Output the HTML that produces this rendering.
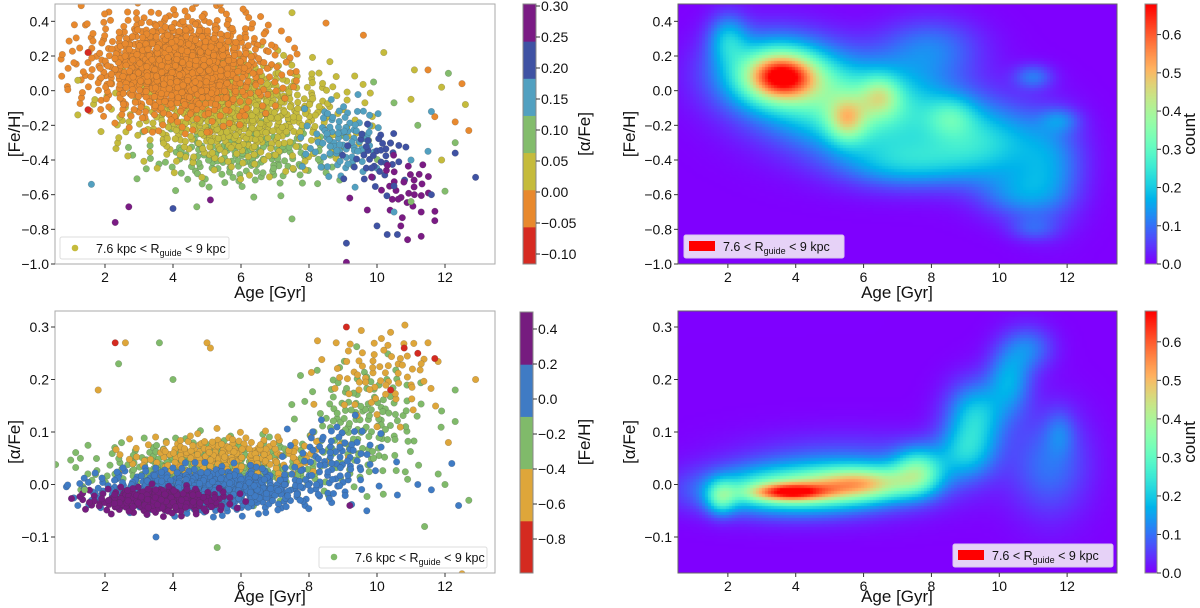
<!DOCTYPE html>
<html><head><meta charset="utf-8">
<style>
html,body{margin:0;padding:0;background:#fff;}
#wrap{position:relative;width:1200px;height:608px;overflow:hidden;font-family:"Liberation Sans","DejaVu Sans",sans-serif;}
canvas{position:absolute;}
svg{position:absolute;left:0;top:0;}
</style></head>
<body>
<div id="wrap">
<canvas id="hm1" width="439" height="260" style="left:678px;top:4px;width:439px;height:260px"></canvas>
<canvas id="hm2" width="439" height="262" style="left:678px;top:311px;width:439px;height:262px"></canvas>
<canvas id="cb1" width="12" height="260" style="left:1145px;top:4px;width:12px;height:260px"></canvas>
<canvas id="cb2" width="12" height="262" style="left:1145px;top:311px;width:12px;height:262px"></canvas>
<svg id="svg" width="1200" height="608" xmlns="http://www.w3.org/2000/svg"></svg>
</div>
<script>
// ---------- DATA ----------
// Top-left scatter clusters: [age, feh, sigmaAge, sigmaFeh, count, alphaFe]
const tlClusters = [
 [6.2,-0.38,1.5,0.09,170,0.07],
 [5.8,-0.12,1.6,0.15,620,0.02],
 [9.0,-0.28,0.55,0.11,90,0.15],
 [10.0,-0.38,0.45,0.09,40,0.20],
 [10.8,-0.56,0.5,0.09,30,0.27],
 [4.2,0.14,1.35,0.15,950,-0.03]
];
const tlPoints = [
 [9.1,-0.99,0.27],[9.1,-0.88,0.22],[2.3,-0.76,0.27],[2.7,-0.67,0.27],[4.0,-0.68,0.22],[5.1,-0.63,0.27],
 [10.0,-0.78,0.22],[10.3,-0.83,0.22],[10.6,-0.83,0.22],[10.9,-0.86,0.27],[11.3,-0.84,0.27],[11.7,-0.75,0.27],
 [10.7,-0.78,0.27],[11.3,-0.70,0.27],[12.9,-0.50,0.22],[12.3,-0.36,0.22],[1.6,-0.54,0.15],[12.1,0.10,0.07],
 [12.5,0.04,-0.03],[12.7,-0.23,-0.03],[12.6,-0.08,0.02],[11.9,0.02,0.02],[11.5,0.12,-0.03],[11.1,0.12,0.02],
 [10.2,0.22,0.02],[9.6,0.32,-0.03],[8.5,0.39,-0.03],[7.5,0.45,0.02],[1.1,0.38,-0.03],[1.3,0.49,-0.03],
 [1.5,0.22,-0.08],[1.5,-0.11,-0.08],[10.5,-0.70,0.15],[11.0,-0.64,0.07],[7.5,-0.74,0.07],[4.7,-0.67,0.07],
 [12.0,-0.58,0.07],[11.5,-0.35,0.15],[11.7,-0.15,-0.03],[12.3,-0.18,-0.03],[9.9,0.05,0.07],[10.5,-0.07,0.07],
 [11.0,-0.05,0.02],[11.6,-0.12,0.15],[11.2,-0.20,0.07],[12.3,-0.30,0.07],[11.9,-0.40,0.02],[11.0,-0.40,0.15],
 [10.5,-0.55,0.22],[11.1,-0.60,0.27],[11.6,-0.60,0.22],[1.2,0.06,0.02],[1.2,-0.14,0.02],[9.2,-0.62,0.27]
];
// Bottom-left scatter clusters: [age, alphaFe, sigmaAge, sigmaAlpha, count, feh]
const blClusters = [
 [5.2,0.030,1.8,0.028,330,-0.1],
 [9.6,0.12,0.9,0.055,140,-0.1],
 [5.6,0.055,1.4,0.020,200,-0.5],
 [10.1,0.21,0.9,0.040,70,-0.5],
 [5.0,-0.010,1.6,0.020,580,0.1],
 [8.8,0.05,0.7,0.035,80,0.1],
 [3.6,-0.030,1.0,0.012,260,0.3]
];
const blPoints = [
 [9.1,0.30,-0.9],[8.8,0.27,-0.6],[10.4,0.29,-0.6],[10.8,0.26,-0.9],[11.2,0.25,-0.9],[11.5,0.27,-0.6],
 [11.7,0.24,-0.9],[11.3,0.23,-0.6],[12.9,0.20,-0.6],[12.3,0.18,-0.3],[10.4,0.18,-0.9],[2.3,0.27,-0.9],
 [2.6,0.27,-0.6],[3.6,0.27,-0.3],[5.0,0.27,-0.6],[5.1,0.26,-0.6],[1.8,0.18,-0.6],[2.4,0.23,-0.3],
 [4.0,0.20,-0.3],[12.5,-0.17,-0.6],[11.4,-0.08,-0.3],[12.4,-0.04,0.1],[9.7,-0.05,0.1],[5.3,-0.12,-0.3],
 [3.5,-0.10,0.1],[12.7,-0.03,-0.3],[12.2,0.04,0.1],[12.3,0.12,-0.3],[11.9,0.14,-0.3],[12.1,0.08,-0.6],
 [10.0,0.11,-0.6],[9.9,0.05,-0.3],[11.2,0.00,0.1],[11.8,0.02,-0.3],[11.6,-0.01,0.1],[10.6,-0.02,0.1],
 [10.9,0.01,-0.3],[12.0,0.00,-0.3],[9.2,-0.04,0.3],[1.2,-0.04,0.1],[1.4,-0.01,-0.3]
];
// Heatmap density blobs: [age, y, sigmaAge, sigmaY, amplitude]
const hmFehBlobs = [
 [3.6,0.08,0.7,0.09,0.38],[3.4,0.10,1.2,0.15,0.3],[5.5,-0.17,0.4,0.09,0.22],[6.5,-0.03,0.4,0.08,0.17],
 [6.0,-0.10,1.8,0.18,0.3],[8.6,-0.15,0.5,0.08,0.12],[9.5,-0.30,1.2,0.15,0.2],[11.0,0.08,0.4,0.05,0.1],
 [11.5,-0.45,0.7,0.2,0.12],[11.8,-0.17,0.4,0.05,0.08],[11.0,-0.80,0.5,0.05,0.06],[7.2,-0.42,1.3,0.1,0.15],
 [2.0,0.30,0.4,0.1,0.15],[8.0,0.25,1.0,0.12,0.1],[10.5,-0.6,0.8,0.1,0.1]
];
const hmAlphaBlobs = [
 [3.8,-0.015,0.8,0.012,0.35],[3.8,-0.012,1.7,0.03,0.3],[6.0,0.002,1.0,0.022,0.3],[7.6,0.025,0.5,0.03,0.25],
 [1.8,-0.025,0.3,0.022,0.2],[9.3,0.13,0.6,0.045,0.2],[10.3,0.2,0.45,0.045,0.15],[10.9,0.26,0.5,0.03,0.1],
 [11.5,0.04,0.8,0.07,0.1],[9.0,0.06,0.6,0.035,0.15],[11.8,0.1,0.3,0.03,0.06],[5.5,0.02,2.2,0.045,0.12]
];
const xTicks = [2,4,6,8,10,12];
const fehTicks = [0.4,0.2,0.0,-0.2,-0.4,-0.6,-0.8,-1.0];
const alphaTicks = [0.3,0.2,0.1,0.0,-0.1];
const cbAlphaLabels = ["0.30","0.25","0.20","0.15","0.10","0.05","0.00","−0.05","−0.10"];
const cbFehLabels = ["0.4","0.2","0.0","−0.2","−0.4","−0.6","−0.8"];
const countTicks = [0.0,0.1,0.2,0.3,0.4,0.5,0.6];

// ---------- HELPERS ----------
const NS="http://www.w3.org/2000/svg";
const svg=document.getElementById('svg');
function el(tag,attrs,parent){const e=document.createElementNS(NS,tag);for(const k in attrs)e.setAttribute(k,attrs[k]);(parent||svg).appendChild(e);return e;}
function txt(s,attrs,parent){const e=el('text',attrs,parent);e.textContent=s;return e;}
function fmt(v,d){const s=Math.abs(v).toFixed(d);return (v<-1e-9?'−':'')+s;}
function lin(d0,d1,r0,r1){return v=>r0+(v-d0)*(r1-r0)/(d1-d0);}

const tlBinCols=['#d62a22','#e8892e','#c5bb3c','#83bc6c','#52a0c0','#3f52a3','#7a1b84'];
const tlEdges=[-0.117,-0.057,0.002,0.062,0.121,0.181,0.240,0.30];
const blBinCols=['#d42a20','#dea63a','#80ba6a','#3f7bc4','#761c7f'];
const blEdges=[-0.994,-0.696,-0.398,-0.099,0.199,0.497];
function binCol(v,edges,cols){for(let i=0;i<cols.length;i++){if(v<edges[i+1])return cols[i];}return cols[cols.length-1];}

function axesFrame(name,x0,y0,x1,y1,stroke){
  const r=el('rect',{x:x0,y:y0,width:x1-x0,height:y1-y0,fill:'none',stroke:stroke,'stroke-width':1});
  
}
function xAxis(prefix,sx,y1){
  const g=el('g',{});
  xTicks.forEach(t=>{const x=sx(t);el('line',{x1:x,x2:x,y1:y1,y2:y1+4,stroke:'#333'},g);
    txt(String(t),{x:x,y:y1+18,'font-size':14,'text-anchor':'middle',fill:'#111'},g);});
}
function yAxis(prefix,sy,x0,ticks,d){
  const g=el('g',{});
  ticks.forEach(t=>{const y=sy(t);el('line',{x1:x0-4,x2:x0,y1:y,y2:y,stroke:'#333'},g);
    txt(fmt(t,d),{x:x0-6,y:y+5,'font-size':14,'text-anchor':'end',fill:'#111'},g);});
}
function label(s,x,y,rot,name){
  const t=txt(s,{x:x,y:y,'font-size':17,'text-anchor':'middle',fill:'#111',transform:rot?`rotate(-90 ${x} ${y})`:''});
  
}
function halton(i,b){let f=1,r=0;while(i>0){f/=b;r+=f*(i%b);i=Math.floor(i/b);}return r;}
function clusterPoints(c){
  const out=[];const n=c[4];
  for(let i=1;i<=n;i++){const u1=halton(i,2),u2=halton(i,3);
    const r=Math.min(2.6,Math.sqrt(-2*Math.log(Math.max(u1,1e-4))));const th=2*Math.PI*u2;
    out.push([c[0]+r*c[2]*Math.cos(th),c[1]+r*c[3]*Math.sin(th),c[5]]);}
  return out;
}

// ---------- TOP-LEFT SCATTER ----------
(function(){
  const x0=55,x1=495,y0=4,y1=264;
  const sx=lin(0.53,13.47,x0,x1), sy=lin(0.5,-1.0,y0,y1);
  el('clipPath',{id:'c1'}).appendChild(el('rect',{x:x0,y:y0,width:x1-x0,height:y1-y0}));
  const g=el('g',{'clip-path':'url(#c1)'});
  let pts=[];tlClusters.forEach(c=>pts=pts.concat(clusterPoints(c)));pts=pts.concat(tlPoints);
  pts.forEach(p=>{const c=el('circle',{cx:sx(p[0]).toFixed(1),cy:sy(p[1]).toFixed(1),r:3.3,fill:binCol(p[2],tlEdges,tlBinCols),stroke:'rgba(60,60,60,0.35)','stroke-width':0.5},g);
    });
  axesFrame('feh-scatter-frame',x0,y0,x1,y1,'#aaa');
  xAxis('feh-scatter',sx,y1);yAxis('feh-scatter',sy,x0,fehTicks,1);
  label('Age [Gyr]',270,298,false,'x-axis-title');
  label('[Fe/H]',20,134,true,'y-axis-title');
  const lg=el('g',{});
  el('rect',{x:60,y:237,width:169,height:22,rx:2,fill:'#fff',stroke:'#ddd'},lg);
  el('circle',{cx:75,cy:248,r:3.3,fill:'#c5bb3c'},lg);
  const t=txt('',{x:96,y:253,'font-size':12.5,fill:'#111'},lg);
  t.innerHTML='7.6 kpc &lt; R<tspan font-size="9" dy="3">guide</tspan><tspan dy="-3"> &lt; 9 kpc</tspan>';
  const cb=el('g',{});
  const cbT=4,cbB=264,bh=(cbB-cbT)/7;
  tlBinCols.forEach((c,i)=>el('rect',{x:523,y:cbB-(i+1)*bh,width:13,height:bh+0.5,fill:c},cb));
  el('rect',{x:523,y:cbT,width:13,height:cbB-cbT,fill:'none',stroke:'#888'},cb);
  cbAlphaLabels.forEach((s,i)=>{const y=6+i*31;el('line',{x1:536,x2:540,y1:y,y2:y,stroke:'#333'},cb);
    txt(s,{x:541,y:y+5,'font-size':14,fill:'#111'},cb);});
  label('[α/Fe]',590,134,true,'colorbar-title');
})();

// ---------- BOTTOM-LEFT SCATTER ----------
(function(){
  const x0=55,x1=495,y0=311,y1=573;
  const sx=lin(0.53,13.47,x0,x1), sy=lin(0.3,-0.1,327,537);
  el('clipPath',{id:'c2'}).appendChild(el('rect',{x:x0,y:y0,width:x1-x0,height:y1-y0}));
  const g=el('g',{'clip-path':'url(#c2)'});
  let pts=[];blClusters.forEach(c=>pts=pts.concat(clusterPoints(c)));pts=pts.concat(blPoints);
  pts.forEach(p=>{const c=el('circle',{cx:sx(p[0]).toFixed(1),cy:sy(p[1]).toFixed(1),r:3.3,fill:binCol(p[2],blEdges,blBinCols),stroke:'rgba(60,60,60,0.35)','stroke-width':0.5},g);
    });
  axesFrame('alpha-scatter-frame',x0,y0,x1,y1,'#aaa');
  xAxis('alpha-scatter',sx,y1);yAxis('alpha-scatter',sy,x0,alphaTicks,1);
  label('Age [Gyr]',270,602,false,'x-axis-title');
  label('[α/Fe]',20,442,true,'y-axis-title');
  const lg=el('g',{});
  el('rect',{x:319,y:547,width:168,height:21,rx:2,fill:'#fff',stroke:'#ddd'},lg);
  el('circle',{cx:334,cy:557,r:3.3,fill:'#80ba6a'},lg);
  const t=txt('',{x:355,y:562,'font-size':12.5,fill:'#111'},lg);
  t.innerHTML='7.6 kpc &lt; R<tspan font-size="9" dy="3">guide</tspan><tspan dy="-3"> &lt; 9 kpc</tspan>';
  const cb=el('g',{});
  const cbT=312,cbB=573,bh=(cbB-cbT)/5;
  blBinCols.forEach((c,i)=>el('rect',{x:520,y:cbB-(i+1)*bh,width:13,height:bh+0.5,fill:c},cb));
  el('rect',{x:520,y:cbT,width:13,height:cbB-cbT,fill:'none',stroke:'#888'},cb);
  cbFehLabels.forEach((s,i)=>{const y=329+i*35;el('line',{x1:533,x2:537,y1:y,y2:y,stroke:'#333'},cb);
    txt(s,{x:538,y:y+5,'font-size':14,fill:'#111'},cb);});
  label('[Fe/H]',590,442,true,'colorbar-title');
})();

// ---------- HEATMAPS ----------
function rainbow(x){x=Math.max(0,Math.min(1,x));
  return [Math.abs(2*x-0.5)*255,Math.sin(Math.PI*x)*255,Math.cos(Math.PI*x/2)*255];}
function drawHeat(id,blobs,sx,sy,w,h,vmax){
  const ctx=document.getElementById(id).getContext('2d');const cell=3;
  for(let py=0;py<h;py+=cell)for(let px=0;px<w;px+=cell){
    const a=sx(px+cell/2),v=sy(py+cell/2);let s=0;
    blobs.forEach(b=>{const dx=(a-b[0])/b[2],dy=(v-b[1])/b[3];s+=b[4]*Math.exp(-0.5*(dx*dx+dy*dy));});
    const c=rainbow(Math.min(s,vmax)/vmax);ctx.fillStyle=`rgb(${c[0]|0},${c[1]|0},${c[2]|0})`;ctx.fillRect(px,py,cell,cell);}
}
function drawCb(id,h){const ctx=document.getElementById(id).getContext('2d');
  for(let y=0;y<h;y++){const c=rainbow(1-y/(h-1));ctx.fillStyle=`rgb(${c[0]|0},${c[1]|0},${c[2]|0})`;ctx.fillRect(0,y,12,1);}}
const VMAX=0.68;
drawHeat('hm1',hmFehBlobs,lin(0,439,0.53,13.47),lin(0,260,0.5,-1.0),439,260,VMAX);
drawHeat('hm2',hmAlphaBlobs,lin(0,439,0.53,13.47),lin(16,226,0.3,-0.1),439,262,VMAX);
drawCb('cb1',260);drawCb('cb2',262);

function heatDecor(prefix,y0,y1,sy,ticks,legY,legX,ylab,titleY){
  const x0=678,x1=1117;
  const sx=lin(0.53,13.47,x0,x1);
  axesFrame(prefix+'-frame',x0,y0,x1,y1,'#666');
  xAxis(prefix,sx,y1);yAxis(prefix,sy,x0,ticks,1);
  label('Age [Gyr]',897,titleY,false,'x-axis-title');
  label(ylab,635,(y0+y1)/2,true,'y-axis-title');
  const lg=el('g',{});
  el('rect',{x:legX,y:legY,width:160,height:23,rx:2,fill:'#e6d2f7',stroke:'#d8c4ee'},lg);
  el('rect',{x:legX+5,y:legY+6,width:26,height:10,fill:'#ff0000'},lg);
  const t=txt('',{x:legX+39,y:legY+16,'font-size':12.5,fill:'#111'},lg);
  t.innerHTML='7.6 &lt; R<tspan font-size="9" dy="3">guide</tspan><tspan dy="-3"> &lt; 9 kpc</tspan>';
  const cb=el('g',{});
  const cs=lin(0,0.68,y1,y0);
  el('rect',{x:1145,y:y0,width:12,height:y1-y0,fill:'none',stroke:'#888'},cb);
  countTicks.forEach(t=>{const y=cs(t);el('line',{x1:1157,x2:1161,y1:y,y2:y,stroke:'#333'},cb);
    txt(t.toFixed(1),{x:1162,y:y+5,'font-size':14,fill:'#111'},cb);});
  label('count',1195,(y0+y1)/2,true,'colorbar-title');
}
heatDecor('feh-heatmap',4,264,lin(0.5,-1.0,4,264),fehTicks,235,684,'[Fe/H]',298);
heatDecor('alpha-heatmap',311,573,lin(0.3,-0.1,327,537),alphaTicks,544,953,'[α/Fe]',602);
</script>
</body></html>
